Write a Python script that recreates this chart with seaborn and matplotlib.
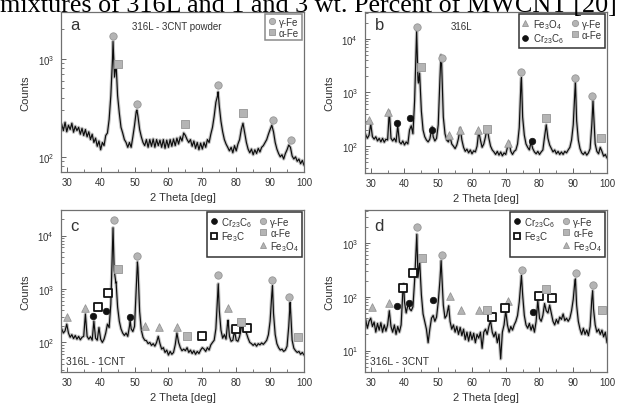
import numpy as np
import pandas as pd
import matplotlib
matplotlib.use('Agg')
import matplotlib.pyplot as plt
import seaborn as sns
from matplotlib.lines import Line2D
from matplotlib.ticker import MultipleLocator, LogLocator, NullFormatter

# ---------------- data ----------------
caption = "mixtures of 316L and 1 and 3 wt. Percent of MWCNT [20]"
theta = np.arange(28.5, 100.001, 0.5)   # sampling grid of the scans (deg)

# panel a : 316L - 3CNT powder
cnt_a = [215,185,225,180,210,190,220,178,205,185,
         200,170,195,165,190,160,180,150,170,140,
         155,128,145,118,140,130,165,175,240,420,
         1000,750,870,420,280,200,175,150,140,125,
         140,125,160,210,290,260,190,160,140,130,
         150,125,150,128,152,125,150,130,148,125,
         150,122,148,125,150,128,152,130,155,135,
         160,145,175,165,150,140,150,128,145,122,
         140,118,138,120,140,125,150,140,170,200,
         260,360,420,330,230,180,150,135,125,115,
         125,110,130,115,135,150,190,220,175,140,
         120,110,120,105,118,108,122,112,125,130,
         140,150,170,190,210,180,140,120,108,100,
         105,95,108,118,132,125,102,95,100,90,
         95,85,92,82]
apx_a_x = [43.65, 44.1, 44.55, 50.7, 74.65]
apx_a_y = [1500, 650, 900, 300, 460]

# panel b : 316L
cnt_b = [165,140,160,260,150,135,150,125,140,120,
         140,118,135,130,450,140,125,140,120,240,
         120,110,125,105,120,110,200,240,170,700,
         9000,1700,2200,450,200,150,130,120,135,200,
         150,125,140,250,1800,3500,350,170,130,120,
         150,110,100,90,105,140,220,130,95,80,
         88,75,85,72,82,78,100,190,130,95,
         110,150,220,140,100,85,78,70,80,68,
         78,66,75,70,95,120,80,70,80,85,
         110,220,1500,350,160,110,95,85,120,90,
         78,72,80,70,78,85,150,250,140,105,
         90,78,85,72,80,70,78,70,80,75,
         85,95,130,250,1100,300,130,90,75,70,
         78,68,75,90,250,450,110,80,72,95,
         80,65,70,60]
apx_b_x = [43.6, 44.15, 44.45, 48.2, 50.8, 74.65, 90.65, 95.85]
apx_b_y = [14000, 1500, 2300, 230, 5000, 1900, 1550, 700]

# panel c : 316L - 1CNT
cnt_c = [180,150,165,220,150,125,140,118,135,115,
         130,112,125,130,340,130,115,128,110,250,
         120,110,190,115,100,115,150,220,190,520,
         7000,2200,1300,460,250,180,150,135,150,130,
         200,180,160,200,1000,2500,380,170,125,110,
         108,95,100,88,95,85,100,130,95,75,
         80,65,72,58,68,60,65,90,150,100,
         80,70,75,70,80,65,72,62,70,60,
         68,62,72,80,75,68,80,72,90,100,
         110,180,700,400,170,120,140,115,250,130,
         105,110,165,110,105,130,190,200,170,150,
         120,100,95,88,95,85,95,90,98,92,
         100,110,140,250,800,350,140,95,80,72,
         75,68,72,85,200,450,110,78,70,65,
         68,60,65,58]
apx_c_x = [43.65, 44.55, 48.7, 50.85, 74.7, 77.6, 90.7, 95.9]
apx_c_y = [14000, 1350, 260, 3200, 1250, 260, 1150, 560]

# panel d : 316L - 3CNT
cnt_d = [38,26,35,40,28,34,22,32,24,33,
         22,30,23,30,55,28,22,30,20,28,
         22,30,120,80,50,70,60,55,65,200,
         900,230,460,110,48,35,25,14,25,40,
         45,35,42,80,200,300,70,40,45,65,
         35,25,30,22,28,20,27,19,25,16,
         22,15,22,16,21,14,20,17,22,11,
         22,25,20,28,36,22,18,22,14,20,
         7,22,30,55,30,22,28,24,30,35,
         45,80,200,110,45,30,26,32,24,30,
         22,35,85,40,35,45,75,55,50,70,
         50,35,30,38,32,42,38,48,36,40,
         35,40,55,90,200,70,35,25,20,26,
         20,24,19,28,90,60,30,22,25,20,
         24,18,22,14]
apx_d_x = [39.75, 41.3, 43.65, 50.85, 53.1, 74.65, 90.65, 95.75]
apx_d_y = [175, 75, 1450, 470, 68, 250, 215, 130]

# phase markers
gam_a_x = [43.65, 50.7, 74.6, 90.9, 96.1]; gam_a_y = [1690, 347, 535, 240, 150]
alp_a_x = [45.2, 64.8, 82.0];              alp_a_y = [890, 217, 277]

fe3o4_b_x = [29.6, 35.2, 53.3, 56.3, 61.7, 70.7]; fe3o4_b_y = [311, 438, 161, 196, 202, 114]
cr_b_x = [37.7, 41.5, 48.1, 77.8];                cr_b_y = [265, 334, 202, 126]
gam_b_x = [43.6, 51.0, 74.6, 90.4, 95.6];          gam_b_y = [16500, 4360, 2380, 1840, 848]
alp_b_x = [44.9, 64.3, 81.9, 98.1];                alp_b_y = [2950, 208, 329, 143]

fe3o4_c_x = [30.1, 35.3, 53.0, 57.1, 62.5, 77.5]; fe3o4_c_y = [303, 434, 205, 197, 197, 434]
cr_c_x = [37.8, 41.7, 48.6];                      cr_c_y = [307, 392, 294]
fe3c_c_x = [39.3, 42.3, 69.9, 79.8, 83.1];        fe3c_c_y = [466, 841, 133, 178, 186]
gam_c_x = [43.8, 50.7, 74.7, 90.5, 95.7];         gam_c_y = [19100, 4220, 1830, 1475, 718]
alp_c_x = [45.0, 65.4, 81.5, 98.1];               alp_c_y = [2370, 133, 244, 129]

fe3o4_d_x = [30.3, 35.4, 53.5, 56.8, 62.1, 70.8]; fe3o4_d_y = [63.8, 75.7, 105, 57.8, 57.8, 84.9]
cr_d_x = [37.7, 41.4, 48.3, 78.0];                cr_d_y = [68.6, 76.8, 87, 51.5]
fe3c_d_x = [39.7, 42.5, 66.0, 69.9, 80.0, 83.7];  fe3c_d_y = [146, 277, 42.8, 61.1, 102, 95]
gam_d_x = [43.8, 51.1, 74.8, 90.7, 95.8];         gam_d_y = [1950, 607, 315, 273, 168]
alp_d_x = [45.1, 64.4, 81.9, 98.6];               alp_d_y = [527, 57.8, 138, 57.8]

# ---------------- style ----------------
sns.set_theme(style='ticks')
plt.rcParams['font.family'] = ['Liberation Sans', 'DejaVu Sans']
plt.rcParams['mathtext.fontset'] = 'custom'
plt.rcParams['mathtext.rm'] = 'Liberation Sans'
plt.rcParams['mathtext.it'] = 'Liberation Sans:italic'

GRAY = '#b4b4b4'
GEDGE = '#969696'
TXT = '#333333'

fig = plt.figure(figsize=(6.19, 4.06), dpi=100)
W, H = 619.0, 406.0

def axes_px(l, t, r, b):
    return fig.add_axes([l / W, 1 - b / H, (r - l) / W, (b - t) / H])

ax_a = axes_px(61, 13, 304, 173)
ax_b = axes_px(365, 13, 607, 174)
ax_c = axes_px(61, 211, 304, 373)
ax_d = axes_px(365, 211, 607, 373)

def draw_curve(ax, cnt, ax_x, ax_y):
    df = pd.DataFrame({'tt': np.concatenate([theta, ax_x]),
                       'c': np.concatenate([np.array(cnt, float), ax_y])})
    df = df.sort_values('tt')
    sns.lineplot(data=df, x='tt', y='c', ax=ax, color='#7a7a7a', lw=2.4,
                 estimator=None, alpha=0.45)
    sns.lineplot(data=df, x='tt', y='c', ax=ax, color='#0d0d0d', lw=0.85,
                 estimator=None)

def pts(ax, xs, ys, kind):
    if kind == 'gam':
        sns.scatterplot(x=xs, y=ys, ax=ax, marker='o', s=28, color=GRAY,
                        edgecolor=GEDGE, linewidth=0.6, zorder=5)
    elif kind == 'alp':
        sns.scatterplot(x=xs, y=ys, ax=ax, marker='s', s=26, color=GRAY,
                        edgecolor=GEDGE, linewidth=0.6, zorder=5)
    elif kind == 'fe3o4':
        sns.scatterplot(x=xs, y=ys, ax=ax, marker='^', s=30, color=GRAY,
                        edgecolor=GEDGE, linewidth=0.6, zorder=5)
    elif kind == 'cr':
        sns.scatterplot(x=xs, y=ys, ax=ax, marker='o', s=22, color='#111111',
                        edgecolor='#111111', linewidth=0.5, zorder=5)
    elif kind == 'fe3c':
        sns.scatterplot(x=xs, y=ys, ax=ax, marker='s', s=26, color='white',
                        edgecolor='#111111', linewidth=1.3, zorder=5)

def h(kind, label):
    st = dict(gam=dict(marker='o', mfc=GRAY, mec=GEDGE, ms=4.5, mew=0.6),
              alp=dict(marker='s', mfc=GRAY, mec=GEDGE, ms=4.2, mew=0.6),
              fe3o4=dict(marker='^', mfc=GRAY, mec=GEDGE, ms=4.5, mew=0.6),
              cr=dict(marker='o', mfc='#111111', mec='#111111', ms=4.2, mew=0.5),
              fe3c=dict(marker='s', mfc='white', mec='#111111', ms=4.6, mew=1.3),
              blank=dict(marker='', ms=0))[kind]
    return Line2D([], [], ls='', label=label, **st)

def style(ax, ylim):
    ax.set_yscale('log')
    ax.set_xlim(28.3, 100)
    ax.set_ylim(*ylim)
    ax.xaxis.set_major_locator(MultipleLocator(10))
    ax.xaxis.set_minor_locator(MultipleLocator(5))
    ax.yaxis.set_major_locator(LogLocator(base=10))
    ax.yaxis.set_minor_locator(LogLocator(base=10, subs=np.arange(2, 10)))
    ax.yaxis.set_minor_formatter(NullFormatter())
    ax.tick_params(which='both', direction='in', bottom=True, left=True,
                   top=False, right=False, colors='#666666', labelcolor=TXT,
                   labelsize=7)
    ax.tick_params(which='major', length=3.5, width=0.7)
    ax.tick_params(which='minor', length=2, width=0.6)
    ax.tick_params(axis='y', pad=5)
    for sp in ax.spines.values():
        sp.set_color('#707070')
        sp.set_linewidth(0.9)
    ax.set_xlabel('2 Theta [deg]', fontsize=8, color=TXT, labelpad=4)
    ax.set_ylabel('Counts', fontsize=8, color=TXT, labelpad=5)

def legend(ax, handles, ncol, edge):
    lg = ax.legend(handles=handles, loc='upper right', ncol=ncol, fontsize=7,
                   frameon=True, fancybox=False, framealpha=1, edgecolor=edge,
                   borderpad=0.25, labelspacing=0.1, handlelength=0.9,
                   handletextpad=0.3, columnspacing=0.7, borderaxespad=0.25)
    lg.get_frame().set_linewidth(1.1)
    for t in lg.get_texts():
        t.set_color(TXT)

# panel a
draw_curve(ax_a, cnt_a, apx_a_x, apx_a_y)
pts(ax_a, gam_a_x, gam_a_y, 'gam'); pts(ax_a, alp_a_x, alp_a_y, 'alp')
style(ax_a, (70, 3000))
legend(ax_a, [h('gam', 'γ-Fe'), h('alp', 'α-Fe')], 1, '#8a8a8a')
ax_a.text(0.04, 0.92, 'a', transform=ax_a.transAxes, fontsize=12, color=TXT, va='center')
ax_a.text(0.475, 0.915, '316L - 3CNT powder', transform=ax_a.transAxes,
          fontsize=7, color=TXT, ha='center', va='center')

# panel b
draw_curve(ax_b, cnt_b, apx_b_x, apx_b_y)
pts(ax_b, fe3o4_b_x, fe3o4_b_y, 'fe3o4'); pts(ax_b, cr_b_x, cr_b_y, 'cr')
pts(ax_b, gam_b_x, gam_b_y, 'gam'); pts(ax_b, alp_b_x, alp_b_y, 'alp')
style(ax_b, (31.6, 31600))
legend(ax_b, [h('fe3o4', 'Fe$_3$O$_4$'), h('cr', 'Cr$_{23}$C$_6$'),
              h('gam', 'γ-Fe'), h('alp', 'α-Fe')], 2, '#333333')
ax_b.text(0.04, 0.92, 'b', transform=ax_b.transAxes, fontsize=12, color=TXT, va='center')
ax_b.text(0.40, 0.915, '316L', transform=ax_b.transAxes, fontsize=7,
          color=TXT, ha='center', va='center')

# panel c
draw_curve(ax_c, cnt_c, apx_c_x, apx_c_y)
pts(ax_c, fe3o4_c_x, fe3o4_c_y, 'fe3o4'); pts(ax_c, cr_c_x, cr_c_y, 'cr')
pts(ax_c, fe3c_c_x, fe3c_c_y, 'fe3c')
pts(ax_c, gam_c_x, gam_c_y, 'gam'); pts(ax_c, alp_c_x, alp_c_y, 'alp')
style(ax_c, (28, 30000))
legend(ax_c, [h('cr', 'Cr$_{23}$C$_6$'), h('fe3c', 'Fe$_3$C'), h('blank', ''),
              h('gam', 'γ-Fe'), h('alp', 'α-Fe'), h('fe3o4', 'Fe$_3$O$_4$')], 2, '#333333')
ax_c.text(0.04, 0.905, 'c', transform=ax_c.transAxes, fontsize=12, color=TXT, va='center')
ax_c.text(0.02, 0.065, '316L - 1CNT', transform=ax_c.transAxes, fontsize=7.5,
          color=TXT, ha='left', va='center')

# panel d
draw_curve(ax_d, cnt_d, apx_d_x, apx_d_y)
pts(ax_d, fe3o4_d_x, fe3o4_d_y, 'fe3o4'); pts(ax_d, cr_d_x, cr_d_y, 'cr')
pts(ax_d, fe3c_d_x, fe3c_d_y, 'fe3c')
pts(ax_d, gam_d_x, gam_d_y, 'gam'); pts(ax_d, alp_d_x, alp_d_y, 'alp')
style(ax_d, (4, 4100))
legend(ax_d, [h('cr', 'Cr$_{23}$C$_6$'), h('fe3c', 'Fe$_3$C'), h('blank', ''),
              h('gam', 'γ-Fe'), h('alp', 'α-Fe'), h('fe3o4', 'Fe$_3$O$_4$')], 2, '#333333')
ax_d.text(0.04, 0.905, 'd', transform=ax_d.transAxes, fontsize=12, color=TXT, va='center')
ax_d.text(0.02, 0.065, '316L - 3CNT', transform=ax_d.transAxes, fontsize=7.5,
          color=TXT, ha='left', va='center')

fig.text(0.4976, 1 - 12.5 / H, caption, ha='center', va='baseline', fontsize=18.8,
         family=['Liberation Serif', 'DejaVu Serif'], color='black')

fig.savefig('out.png', dpi=100)
